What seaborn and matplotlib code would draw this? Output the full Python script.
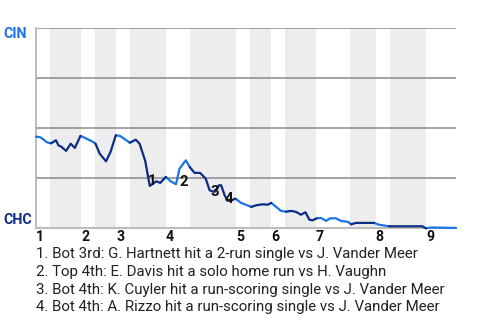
import numpy as np
import pandas as pd
import matplotlib
matplotlib.use("Agg")
import matplotlib.pyplot as plt
import seaborn as sns

# ---------------- data ----------------
event_x = [0, 1.1, 2.1, 2.9, 3.5, 4.3, 5.7, 6.4, 7.3, 8.6,
           9.9, 11.1, 12.7, 14, 15.4, 16.3, 17, 18.2, 20, 21.3,
           22.8, 24, 25.4, 26.8, 28.5, 29.6, 31.2, 32.5, 33.4, 34.4,
           35.5, 37.1, 38.5, 40, 41, 42.8, 43.9, 45.3, 46.9, 48.5,
           49.6, 51, 52.3, 52.9, 53.9, 54.8, 55.8, 57, 58.6, 59.9,
           61.5, 62.9, 64.8, 66.2, 67.2, 68.6, 70, 71.5, 72.9, 74.3,
           75.7, 77, 78.1, 79, 80.2, 81.4, 82.9, 84, 85.7, 87.1,
           89.2, 90, 91.4, 96.6, 98, 100.9, 110.4, 111.4, 112.8, 119.4,
           120]
cin_wp = [45.8, 45.6, 44.5, 43.2, 42.8, 42.5, 44, 41.5, 40.7, 38.7,
          42.3, 40.2, 46.2, 45.2, 44, 43.2, 42.3, 37.3, 33.5, 38.2,
          46.5, 46.2, 44.5, 42.8, 44.3, 42.3, 33.7, 21.2, 22.3, 23.5,
          22.7, 25.7, 23.5, 22, 29.8, 34, 30.7, 27.7, 27.7, 24.8,
          19, 18.2, 21.5, 21.5, 16.5, 13.7, 14, 14.8, 12.7, 11.8,
          10.7, 11.5, 12, 11.8, 12.7, 10.7, 8.7, 8.3, 8.7, 8.2,
          6.8, 8, 4.3, 4, 5, 5.2, 3.7, 5, 5, 3.7,
          3.2, 2, 2.7, 2.7, 1.8, 1, 1, 0, 0.4, 0.2,
          0.2]

# half-inning boundaries (top 1st, bot 1st, top 2nd, ...)
half_bounds = [0, 4, 12.9, 16.9, 22.9, 26.9, 37.1, 44, 57.1, 61.1,
               67.1, 71.1, 80, 89.7, 97.1, 101.1, 111.4, 120.3]
inning_labels = ["1", "2", "3", "4", "5", "6", "7", "8", "9"]

mark_x = [33.3, 42.3, 51.0, 55.1]
mark_y = [21.6, 21.4, 16.1, 12.5]
mark_labels = ["1", "2", "3", "4"]

notes = [
    "1. Bot 3rd: G. Hartnett hit a 2-run single vs J. Vander Meer",
    "2. Top 4th: E. Davis hit a solo home run vs H. Vaughn",
    "3. Bot 4th: K. Cuyler hit a run-scoring single vs J. Vander Meer",
    "4. Bot 4th: A. Rizzo hit a run-scoring single vs J. Vander Meer",
]

team_top = "CIN"
team_bottom = "CHC"

# ---------------- style ----------------
sns.set_theme(style="white")
plt.rcParams["font.family"] = ["Roboto", "DejaVu Sans"]

LIGHT = "#1a73e8"
DARK = "#0d2c84"

W, H = 480, 320
fig = plt.figure(figsize=(4.8, 3.2), dpi=100)
ax = fig.add_axes([36 / W, 1 - 228.3 / H, 420 / W, 200 / H])

# shaded bottom halves
for k in range(1, len(half_bounds) - 1, 2):
    ax.axvspan(half_bounds[k], half_bounds[k + 1], color="#ededed", lw=0, zorder=0)

# build colored runs
def half_of(xm):
    k = int(np.searchsorted(half_bounds, xm, side="right")) - 1
    return "top" if k % 2 == 0 else "bot"

seg_half = [half_of((event_x[i] + event_x[i + 1]) / 2) for i in range(len(event_x) - 1)]
rows = []
run = 0
start = 0
for i in range(1, len(seg_half) + 1):
    if i == len(seg_half) or seg_half[i] != seg_half[start]:
        for j in range(start, i + 1):
            rows.append(dict(x=event_x[j], wp=cin_wp[j], half=seg_half[start], run=run))
        run += 1
        start = i
df = pd.DataFrame(rows)

sns.lineplot(data=df, x="x", y="wp", hue="half", units="run", estimator=None,
             palette={"top": LIGHT, "bot": DARK}, lw=1.6, legend=False,
             sort=False, ax=ax)
for ln in ax.lines:
    ln.set_clip_on(False)
    ln.set_solid_joinstyle("round")
    ln.set_zorder(3)

ax.set_xlim(0, 120)
ax.set_ylim(0, 100)
ax.set_yticks([0, 25, 50, 75, 100])
ax.set_yticklabels([])
ax.set_xticks([])
ax.yaxis.grid(True, color="#8a8a8a", lw=1.1)
ax.tick_params(left=False, bottom=False)
ax.set_xlabel("")
ax.set_ylabel("")
for s in ["top", "right"]:
    ax.spines[s].set_visible(False)
ax.spines["left"].set_color("#b0b0b0")
ax.spines["left"].set_linewidth(1.2)
ax.spines["bottom"].set_color("#bdbdbd")
ax.spines["bottom"].set_linewidth(1.5)

# inning labels
for lab, b in zip(inning_labels, half_bounds[0::2]):
    ax.text(b, -6.2, lab, ha="left", va="baseline", fontsize=10.2,
            fontweight="bold", color="#111111", clip_on=False)

# event markers
for mx, my, ml in zip(mark_x, mark_y, mark_labels):
    ax.text(mx, my, ml, ha="center", va="baseline", fontsize=10.8,
            fontweight="bold", color="#111111", zorder=5)

# team labels
fig.text(3 / W, 1 - 38.3 / H, team_top, ha="left", va="baseline",
         fontsize=10.3, fontweight="bold", color=LIGHT)
fig.text(3 / W, 1 - 224.3 / H, team_bottom, ha="left", va="baseline",
         fontsize=10.3, fontweight="bold", color=DARK)

# footnotes
for n, yb in zip(notes, [258.3, 276.0, 293.7, 311.4]):
    fig.text(36 / W, 1 - yb / H, n, ha="left", va="baseline",
             fontsize=10.8, color="#222222")

fig.savefig("out.png", dpi=100)
